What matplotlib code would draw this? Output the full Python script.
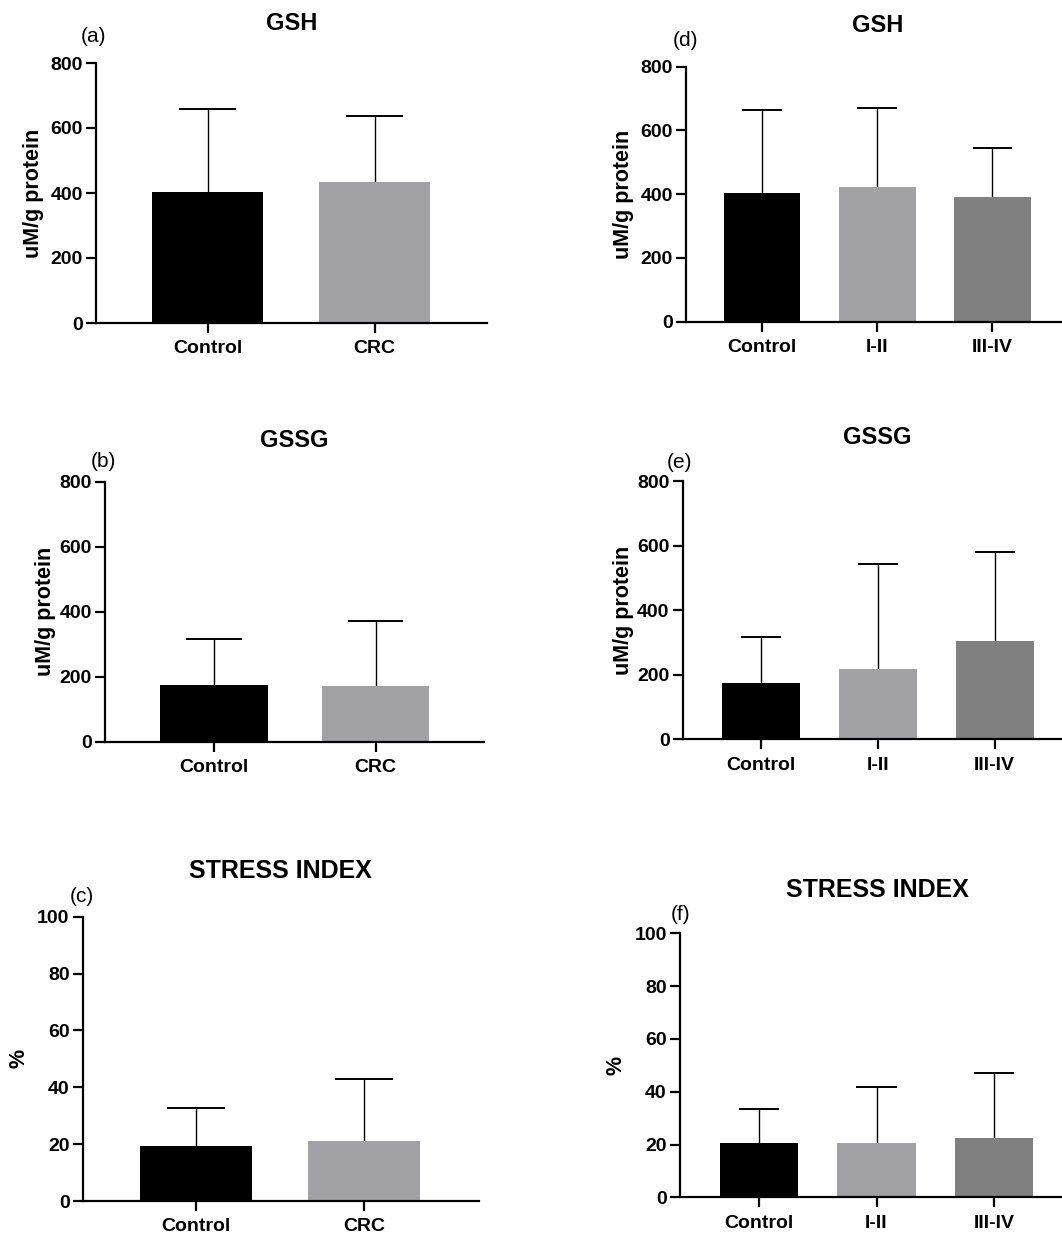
import matplotlib
matplotlib.use("Agg")
import matplotlib.pyplot as plt

plt.rcParams['font.family'] = ['Liberation Sans', 'DejaVu Sans']

# ---------------- data ----------------
groups_crc = ["Control", "CRC"]
groups_stage = ["Control", "I-II", "III-IV"]

gsh_crc_mean = [402, 435]
gsh_crc_sd = [258, 203]
gssg_crc_mean = [174, 171]
gssg_crc_sd = [143, 201]
si_crc_mean = [19.2, 21.0]
si_crc_sd = [13.6, 22.0]

gsh_stage_mean = [405, 423, 390]
gsh_stage_sd = [258, 248, 156]
gssg_stage_mean = [174, 218, 304]
gssg_stage_sd = [143, 325, 276]
si_stage_mean = [20.5, 20.4, 22.6]
si_stage_sd = [13.1, 21.4, 24.5]

titles = ["GSH", "GSSG", "STRESS INDEX", "GSH", "GSSG", "STRESS INDEX"]
letters = ["(a)", "(b)", "(c)", "(d)", "(e)", "(f)"]
ylabels = ["uM/g protein", "uM/g protein", "%", "uM/g protein", "uM/g protein", "%"]
ymax = [800, 800, 100, 800, 800, 100]
ystep = [200, 200, 20, 200, 200, 20]

colors_crc = ["#000000", "#A2A1A6"]
colors_stage = ["#000000", "#A2A1A6", "#808080"]

panels = [
    (groups_crc, gsh_crc_mean, gsh_crc_sd, colors_crc),
    (groups_crc, gssg_crc_mean, gssg_crc_sd, colors_crc),
    (groups_crc, si_crc_mean, si_crc_sd, colors_crc),
    (groups_stage, gsh_stage_mean, gsh_stage_sd, colors_stage),
    (groups_stage, gssg_stage_mean, gssg_stage_sd, colors_stage),
    (groups_stage, si_stage_mean, si_stage_sd, colors_stage),
]

# ---------------- layout (pixels) ----------------
W, H = 1062, 1238
DPI = 100
# left spine x, right end x, y of zero, y of top, first bar center, spacing
geom = [
    (96.0, 487.0, 323.0, 63.0, 207.5, 167.0),
    (105.3, 484.0, 742.0, 481.7, 214.0, 161.7),
    (82.7, 478.7, 1201.0, 916.7, 195.8, 168.5),
    (686.0, 1070.0, 321.7, 66.7, 762.0, 115.2),
    (682.7, 1070.0, 739.3, 481.0, 761.3, 116.7),
    (680.0, 1070.0, 1197.3, 933.3, 759.0, 117.5),
]
title_pos = [(291.7, 23), (294.7, 440), (280.7, 871), (878, 26), (877.5, 438), (877, 890)]
title_size = [17, 17, 18, 17, 17, 18]
letter_pos = [(93, 37), (103, 461), (82, 896), (685, 41), (680, 462), (681, 914)]
ylabel_x = [34, 46, 19, 623, 624, 616]

fig = plt.figure(figsize=(W / DPI, H / DPI), dpi=DPI)

for i, (cats, means, sds, cols) in enumerate(panels):
    left, right, y0, ytop, c0, sp = geom[i]
    ax = fig.add_axes([left / W, 1 - y0 / H, (right - left) / W, (y0 - ytop) / H])
    x = list(range(len(cats)))
    width = 0.665
    ax.bar(x, means, width=width, color=cols, zorder=2)
    tops = [m + s for m, s in zip(means, sds)]
    half_cap = width / 4 + 0.005
    ax.vlines(x, means, tops, colors='black', linewidth=1.0, zorder=1)
    ax.hlines(tops, [xi - half_cap for xi in x], [xi + half_cap for xi in x],
              colors='black', linewidth=1.4, zorder=1)
    ax.set_xlim((left - c0) / sp, (right - c0) / sp)
    ax.set_ylim(0, ymax[i])
    ax.set_yticks(list(range(0, ymax[i] + 1, ystep[i])))
    ax.set_xticks(x)
    ax.set_xticklabels(cats)
    for s in ["top", "right"]:
        ax.spines[s].set_visible(False)
    for s in ["left", "bottom"]:
        ax.spines[s].set_linewidth(1.6)
    ax.tick_params(axis='both', width=1.6, length=7.5, labelsize=14)
    ax.tick_params(axis='y', pad=2)
    ax.tick_params(axis='x', pad=5)
    for lab in ax.get_xticklabels() + ax.get_yticklabels():
        lab.set_fontweight('bold')
    ax.patch.set_alpha(0)

    tx, ty = title_pos[i]
    fig.text(tx / W, 1 - ty / H, titles[i], ha='center', va='center',
             fontsize=title_size[i], fontweight='bold')
    lx, ly = letter_pos[i]
    fig.text(lx / W, 1 - ly / H, letters[i], ha='center', va='center', fontsize=15)
    fig.text(ylabel_x[i] / W, 1 - ((y0 + ytop) / 2) / H, ylabels[i], ha='center',
             va='center', rotation=90, fontsize=15.5, fontweight='bold')

fig.savefig("out.png", dpi=DPI)
